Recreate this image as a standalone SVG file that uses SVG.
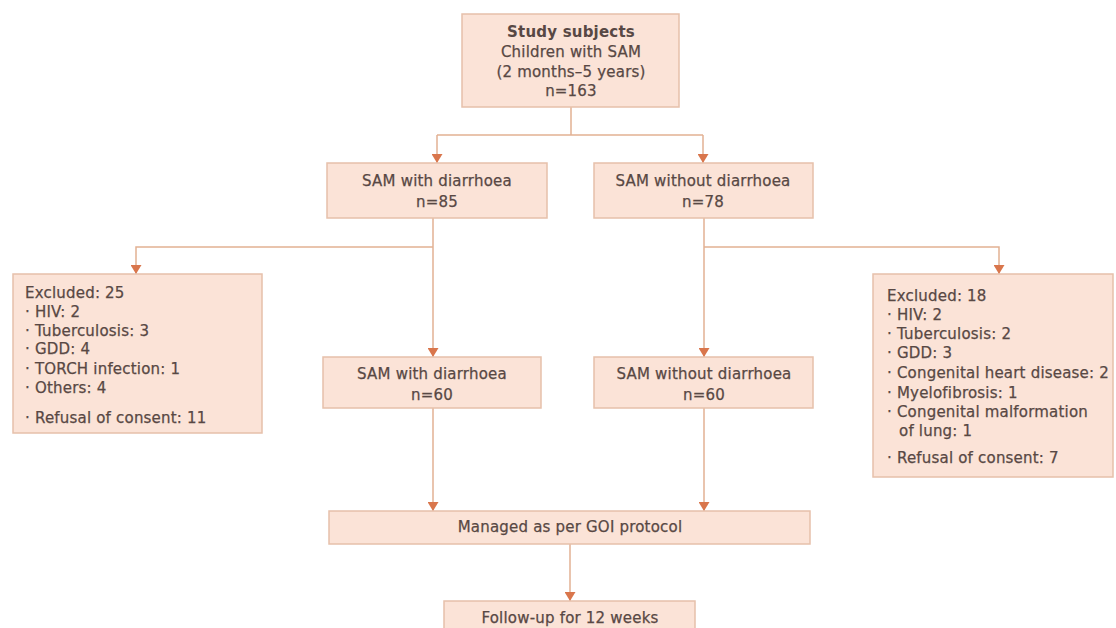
<svg xmlns="http://www.w3.org/2000/svg" width="1116" height="628" viewBox="0 0 1116 628">
<defs>
<marker id="ah" markerWidth="9" markerHeight="11" refX="9" refY="5.5" orient="auto" markerUnits="userSpaceOnUse" viewBox="0 0 9 11">
<path d="M0,0 L9,5.5 L0,11 Z" fill="#d9764c"/>
</marker>
<style>
.box{fill:#fbe3d7;stroke:#e6c0aa;stroke-width:1.5}
.t{font-family:"DejaVu Sans","Noto Sans",sans-serif;font-size:15px;letter-spacing:0.2px;fill:#584844;stroke:#584844;stroke-width:0.25}
.c{text-anchor:middle}
.b{font-weight:bold;stroke-width:0}
.ln{fill:none;stroke:#e2b193;stroke-width:1.5}
</style>
</defs>
<rect width="1116" height="628" fill="#ffffff"/>
<g id="connectors">
<path class="ln" d="M571,107 V135 M437,135 H703"/>
<path class="ln" d="M437,135 V163" marker-end="url(#ah)"/>
<path class="ln" d="M703,135 V163" marker-end="url(#ah)"/>
<path class="ln" d="M433,218 V357" marker-end="url(#ah)"/>
<path class="ln" d="M433,247 H136 V274" marker-end="url(#ah)"/>
<path class="ln" d="M704,218 V357" marker-end="url(#ah)"/>
<path class="ln" d="M704,247 H999 V274" marker-end="url(#ah)"/>
<path class="ln" d="M433,408 V511" marker-end="url(#ah)"/>
<path class="ln" d="M704,408 V511" marker-end="url(#ah)"/>
<path class="ln" d="M570,544 V601" marker-end="url(#ah)"/>
</g>
<g id="study">
<rect class="box" x="462" y="14" width="217" height="93"/>
<text class="t c b" x="571" y="37">Study subjects</text>
<text class="t c" x="571" y="57">Children with SAM</text>
<text class="t c" x="571" y="77">(2 months–5 years)</text>
<text class="t c" x="571" y="96">n=163</text>
</g>
<g id="with85">
<rect class="box" x="327" y="163" width="220" height="55"/>
<text class="t c" x="437" y="186">SAM with diarrhoea</text>
<text class="t c" x="437" y="207">n=85</text>
</g>
<g id="without78">
<rect class="box" x="594" y="163" width="219" height="55"/>
<text class="t c" x="703" y="186">SAM without diarrhoea</text>
<text class="t c" x="703" y="207">n=78</text>
</g>
<g id="excl25">
<rect class="box" x="13" y="274" width="249" height="159"/>
<text class="t" x="25" y="298">Excluded: 25</text>
<text class="t" x="25" y="317">· HIV: 2</text>
<text class="t" x="25" y="336">· Tuberculosis: 3</text>
<text class="t" x="25" y="354">· GDD: 4</text>
<text class="t" x="25" y="374">· TORCH infection: 1</text>
<text class="t" x="25" y="393">· Others: 4</text>
<text class="t" x="25" y="423">· Refusal of consent: 11</text>
</g>
<g id="excl18">
<rect class="box" x="873" y="274" width="240" height="203"/>
<text class="t" x="887" y="301">Excluded: 18</text>
<text class="t" x="887" y="320">· HIV: 2</text>
<text class="t" x="887" y="339">· Tuberculosis: 2</text>
<text class="t" x="887" y="358">· GDD: 3</text>
<text class="t" x="887" y="378">· Congenital heart disease: 2</text>
<text class="t" x="887" y="398">· Myelofibrosis: 1</text>
<text class="t" x="887" y="417">· Congenital malformation</text>
<text class="t" x="899" y="436">of lung: 1</text>
<text class="t" x="887" y="463">· Refusal of consent: 7</text>
</g>
<g id="with60">
<rect class="box" x="323" y="357" width="218" height="51"/>
<text class="t c" x="432" y="379">SAM with diarrhoea</text>
<text class="t c" x="432" y="400">n=60</text>
</g>
<g id="without60">
<rect class="box" x="594" y="357" width="219" height="51"/>
<text class="t c" x="704" y="379">SAM without diarrhoea</text>
<text class="t c" x="704" y="400">n=60</text>
</g>
<g id="managed">
<rect class="box" x="329" y="511" width="481" height="33"/>
<text class="t c" x="570" y="532">Managed as per GOI protocol</text>
</g>
<g id="followup">
<rect class="box" x="444" y="601" width="251" height="32"/>
<text class="t c" x="570" y="623">Follow-up for 12 weeks</text>
</g>
</svg>
